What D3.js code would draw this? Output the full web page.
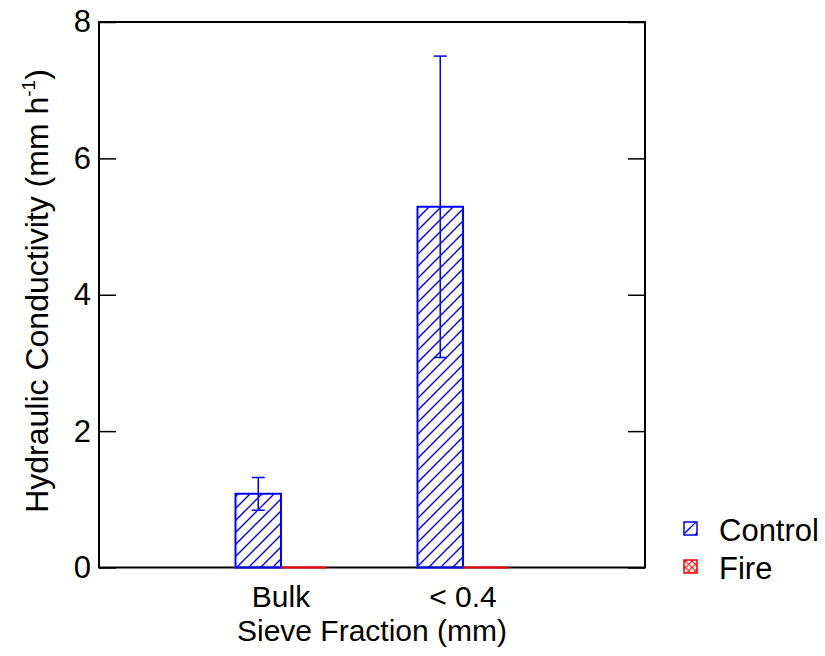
<!DOCTYPE html>
<html>
<head>
<meta charset="utf-8">
<script src="https://cdn.jsdelivr.net/npm/d3@7"></script>
<style>
  body { margin: 0; background: #fff; }
  svg { display: block; }
  text { font-family: "Liberation Sans", Arial, sans-serif; }
</style>
</head>
<body>
<svg id="chart" width="825" height="656"></svg>
<script>
const categories = ["Bulk", "< 0.4"];
const series = ["Control", "Fire"];
const controlMean = [1.08, 5.29];
const controlErr = [0.24, 2.21];
const fireMean = [0, 0];
const fireErr = [0, 0];
const yTicks = [0, 2, 4, 6, 8];

const colors = { Control: "#0000ff", Fire: "#ff0000" };
const patternIds = { Control: "hatch", Fire: "cross" };

const svg = d3.select("#chart");
const plot = { left: 99, right: 645, top: 22, bottom: 567.5 };
const fontSize = 31;

// padding slots on each side, so the two groups sit at 1/3 and 2/3
const x = d3.scalePoint().domain(["", ...categories, " "]).range([plot.left, plot.right]);
const groupWidth = x.step() * 0.5;
const xs = d3.scaleBand().domain(series).range([-groupWidth / 2, groupWidth / 2]);
const y = d3.scaleLinear().domain([0, 8]).range([plot.bottom, plot.top]);

const defs = svg.append("defs");

const hatch = defs.append("pattern")
  .attr("id", "hatch")
  .attr("patternUnits", "userSpaceOnUse")
  .attr("width", 12)
  .attr("height", 12);
hatch.append("path")
  .attr("d", "M0,12L12,0M-3,3L3,-3M9,15L15,9")
  .attr("stroke", colors.Control)
  .attr("stroke-width", 1.4);

const cross = defs.append("pattern")
  .attr("id", "cross")
  .attr("patternUnits", "userSpaceOnUse")
  .attr("x", 684)
  .attr("y", 560)
  .attr("width", 6.5)
  .attr("height", 6.5);
cross.append("path")
  .attr("d", "M0,6.5L6.5,0M0,0L6.5,6.5")
  .attr("stroke", colors.Fire)
  .attr("stroke-width", 1);

// frame
svg.append("rect")
  .attr("x", plot.left)
  .attr("y", plot.top)
  .attr("width", plot.right - plot.left)
  .attr("height", plot.bottom - plot.top)
  .attr("fill", "none")
  .attr("stroke", "#000")
  .attr("stroke-width", 2);

const yAxis = svg.append("g")
  .attr("transform", `translate(${plot.left},0)`)
  .call(d3.axisLeft(y).tickValues(yTicks).tickSize(-17).tickPadding(8).tickFormat(d3.format("d")));
const yAxisRight = svg.append("g")
  .attr("transform", `translate(${plot.right},0)`)
  .call(d3.axisRight(y).tickValues(yTicks).tickSize(-17).tickFormat(""));

[yAxis, yAxisRight].forEach((g) => {
  g.select(".domain").remove();
  g.selectAll(".tick line").attr("stroke", "#000").attr("stroke-width", 1.5);
});
yAxis.selectAll(".tick text")
  .attr("font-size", fontSize)
  .attr("font-family", "Liberation Sans, Arial, sans-serif")
  .attr("fill", "#000");

// bars
const rows = [];
categories.forEach((c, i) => {
  rows.push({ cat: c, s: "Control", v: controlMean[i], e: controlErr[i] });
  rows.push({ cat: c, s: "Fire", v: fireMean[i], e: fireErr[i] });
});

function barPath(d) {
  const x0 = x(d.cat) + xs(d.s);
  const w = xs.bandwidth();
  const y0 = y(0), y1 = y(d.v);
  return `M${x0},${y0}L${x0},${y1}L${x0 + w},${y1}L${x0 + w},${y0}Z`;
}

svg.append("g")
  .selectAll("path")
  .data(rows)
  .enter()
  .append("path")
  .attr("d", barPath)
  .attr("fill", (d) => `url(#${patternIds[d.s]})`)
  .attr("stroke", (d) => colors[d.s])
  .attr("stroke-width", 2);

// error bars
const errRows = rows.filter((d) => d.e > 0);
const errG = svg.append("g")
  .selectAll("g")
  .data(errRows)
  .enter()
  .append("g")
  .attr("stroke", (d) => colors[d.s])
  .attr("stroke-width", 1.5);

errG.append("line")
  .attr("x1", (d) => x(d.cat) + xs(d.s) + xs.bandwidth() / 2)
  .attr("x2", (d) => x(d.cat) + xs(d.s) + xs.bandwidth() / 2)
  .attr("y1", (d) => y(d.v - d.e))
  .attr("y2", (d) => y(d.v + d.e));

errG.selectAll(".cap")
  .data((d) => [d.v - d.e, d.v + d.e].map((val) => ({ d, val })))
  .enter()
  .append("line")
  .attr("class", "cap")
  .attr("x1", (c) => x(c.d.cat) + xs(c.d.s) + xs.bandwidth() / 2 - 6.5)
  .attr("x2", (c) => x(c.d.cat) + xs(c.d.s) + xs.bandwidth() / 2 + 6.5)
  .attr("y1", (c) => y(c.val))
  .attr("y2", (c) => y(c.val));

// category labels
svg.append("g")
  .selectAll("text")
  .data(categories)
  .enter()
  .append("text")
  .attr("x", (d) => x(d))
  .attr("y", 607)
  .attr("text-anchor", "middle")
  .attr("font-size", 30)
  .text((d) => d);

svg.append("text")
  .attr("x", (plot.left + plot.right) / 2)
  .attr("y", 641)
  .attr("text-anchor", "middle")
  .attr("font-size", 30)
  .text("Sieve Fraction (mm)");

const yTitle = svg.append("text")
  .attr("transform", `translate(48,291) rotate(-90)`)
  .attr("text-anchor", "middle")
  .attr("font-size", 32);
yTitle.append("tspan").text("Hydraulic Conductivity (mm h");
yTitle.append("tspan").attr("font-size", 19).attr("dy", -13).text("-1");
yTitle.append("tspan").attr("dy", 13).text(")");

// legend
const legend = svg.append("g")
  .selectAll("g")
  .data(series)
  .enter()
  .append("g")
  .attr("transform", (d, i) => `translate(684,${522 + i * 38})`);

legend.append("rect")
  .attr("width", 13)
  .attr("height", 13)
  .attr("fill", (d) => `url(#${patternIds[d]})`)
  .attr("stroke", (d) => colors[d])
  .attr("stroke-width", 1.5);

legend.append("text")
  .attr("x", 35)
  .attr("y", 19)
  .attr("font-size", fontSize)
  .text((d) => d);
</script>
</body>
</html>
